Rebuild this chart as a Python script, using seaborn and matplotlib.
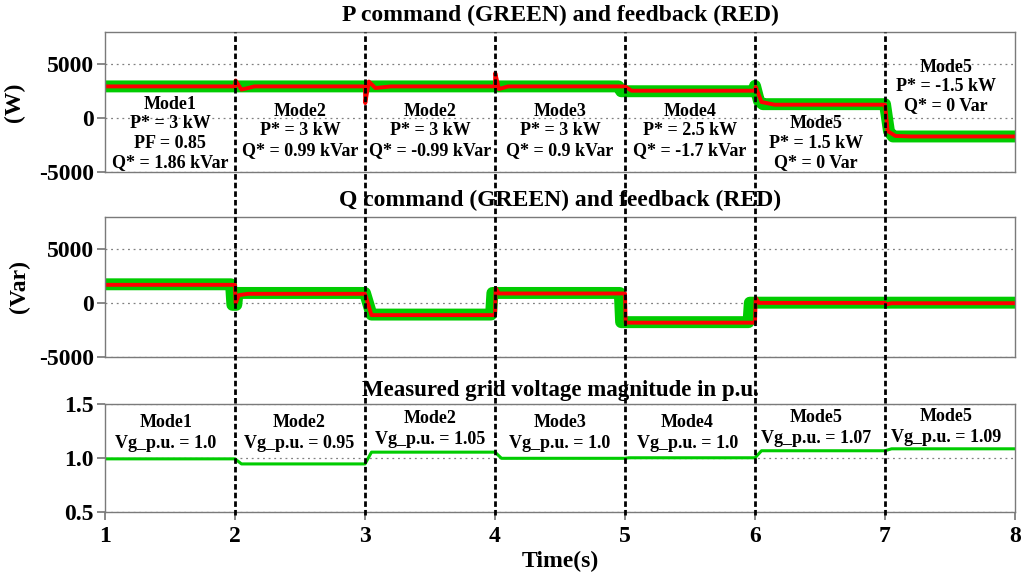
import matplotlib
matplotlib.use("Agg")
import matplotlib.pyplot as plt
import matplotlib.transforms as mtransforms
from matplotlib.lines import Line2D
import numpy as np
import pandas as pd
import seaborn as sns

# ---------------- data ----------------
mode_change_times = [2, 3, 4, 5, 6, 7]

p_cmd_t = [1.0, 4.95, 4.97, 5.99, 6.0, 6.03, 6.06, 7.0, 7.03, 7.06, 8.0]
p_cmd_v = [2950, 2950, 2500, 2500, 3000, 1600, 1300, 1300, -1200, -1700, -1700]

p_fb_t = [1.0, 2.0, 2.005, 2.05, 2.15, 3.0, 3.002, 3.03, 3.08, 3.2,
          4.0, 4.002, 4.03, 4.1, 5.0, 5.05, 6.0, 6.005, 6.05, 6.15,
          7.0, 7.02, 7.08, 7.2, 8.0]
p_fb_v = [2950, 2950, 3500, 2650, 2950, 2950, 1400, 3400, 2800, 2950,
          2950, 4200, 2700, 2950, 2950, 2550, 2550, 2900, 1500, 1250,
          1250, -1200, -1650, -1700, -1700]

q_cmd_t = [1.0, 1.97, 1.98, 2.01, 2.02, 3.0, 3.05, 3.97, 3.98, 4.96, 4.97, 5.95, 5.96, 8.0]
q_cmd_v = [1750, 1750, -150, -150, 950, 950, -1050, -1050, 950, 950, -1750, -1750, 50, 50]

q_fb_t = [1.0, 2.0, 2.005, 2.03, 2.1, 3.0, 3.05, 4.0, 4.005, 4.03,
          5.0, 5.005, 6.0, 6.005, 6.03, 7.0, 7.01, 7.05, 8.0]
q_fb_v = [1700, 1700, 0, 750, 870, 870, -1100, -1100, 1400, 900,
          900, -1800, -1800, 500, 30, 30, -100, 0, 0]

v_t = [1.0, 2.0, 2.05, 3.0, 3.05, 4.0, 4.05, 5.0, 5.03, 6.0, 6.05, 7.0, 7.05, 8.0]
v_v = [0.995, 0.995, 0.948, 0.948, 1.057, 1.057, 1.0, 1.0, 1.005, 1.005, 1.07, 1.07, 1.088, 1.088]

p_texts = ["Mode1\nP* = 3 kW\nPF = 0.85\nQ* = 1.86 kVar",
           "Mode2\nP* = 3 kW\nQ* = 0.99 kVar",
           "Mode2\nP* = 3 kW\nQ* = -0.99 kVar",
           "Mode3\nP* = 3 kW\nQ* = 0.9 kVar",
           "Mode4\nP* = 2.5 kW\nQ* = -1.7 kVar",
           "Mode5\nP* = 1.5 kW\nQ* = 0 Var",
           "Mode5\nP* = -1.5 kW\nQ* = 0 Var"]
v_texts = ["Mode1\nVg_p.u. = 1.0",
           "Mode2\nVg_p.u. = 0.95",
           "Mode2\nVg_p.u. = 1.05",
           "Mode3\nVg_p.u. = 1.0",
           "Mode4\nVg_p.u. = 1.0",
           "Mode5\nVg_p.u. = 1.07",
           "Mode5\nVg_p.u. = 1.09"]
x_ticks = [1, 2, 3, 4, 5, 6, 7, 8]

# ---------------- layout constants ----------------
p_text_x = [1.5, 2.5, 3.5, 4.5, 5.5, 6.47, 7.47]
p_text_y = [-1430, -1180, -1180, -1180, -1180, -2320, 2955]
v_text_x = [1.47, 2.49, 3.5, 4.5, 5.48, 6.47, 7.47]
v_text_y = [1.234, 1.234, 1.27, 1.234, 1.234, 1.278, 1.29]

GREEN = "#00CC00"
RED = "#FF0000"
SPINE = "#7a7a7a"

sns.set_theme(style="white")
plt.rcParams["font.family"] = ["Liberation Serif", "DejaVu Serif"]
plt.rcParams["font.weight"] = "bold"
plt.rcParams["axes.titleweight"] = "bold"
plt.rcParams["axes.labelweight"] = "bold"
plt.rcParams["axes.unicode_minus"] = False
plt.rcParams["text.color"] = "black"
plt.rcParams["axes.labelcolor"] = "black"
plt.rcParams["axes.titlecolor"] = "black"
plt.rcParams["xtick.labelcolor"] = "black"
plt.rcParams["ytick.labelcolor"] = "black"

fig = plt.figure(figsize=(10.28, 5.77), dpi=100)
L, R = 0.1021, 0.9874
ax1 = fig.add_axes([L, 0.7019, R - L, 0.9445 - 0.7019])
ax2 = fig.add_axes([L, 0.3808, R - L, 0.6244 - 0.3808])
ax3 = fig.add_axes([L, 0.1121, R - L, 0.2993 - 0.1121])

def draw(ax, t, v, color, lw):
    df = pd.DataFrame({"t": t, "v": v})
    sns.lineplot(data=df, x="t", y="v", ax=ax, color=color, linewidth=lw,
                 estimator=None, sort=False, legend=False)

draw(ax1, p_cmd_t, p_cmd_v, GREEN, 8.6)
draw(ax1, p_fb_t, p_fb_v, RED, 2.8)
draw(ax2, q_cmd_t, q_cmd_v, GREEN, 8.6)
draw(ax2, q_fb_t, q_fb_v, RED, 2.8)
draw(ax3, v_t, v_v, GREEN, 2.2)

for ax, (lo, hi), ticks in [(ax1, (-5000, 8000), [-5000, 0, 5000]),
                            (ax2, (-5000, 8000), [-5000, 0, 5000]),
                            (ax3, (0.5, 1.5), [0.5, 1.0, 1.5])]:
    ax.set_xlim(1, 8)
    ax.set_ylim(lo, hi)
    ax.set_yticks(ticks)
    ax.grid(axis="y", linestyle=(0, (1.5, 3)), color="#808080", linewidth=0.9)
    ax.grid(axis="x", visible=False)
    for s in ax.spines.values():
        s.set_color(SPINE)
        s.set_linewidth(1.0)
    ax.tick_params(axis="y", which="both", left=True, direction="out", length=6,
                   color=SPINE, labelcolor="black", labelsize=17, pad=2)
    ax.set_xlabel("")

ax3.set_yticklabels(["0.5", "1.0", "1.5"])
for ax in (ax1, ax2):
    ax.set_xticks(x_ticks)
    ax.tick_params(axis="x", bottom=False, labelbottom=False)
ax3.set_xticks(x_ticks)
ax3.tick_params(axis="x", bottom=True, direction="out", length=6, color=SPINE,
                labelcolor="black", labelsize=17, pad=4)

ax1.set_ylabel("(W)", fontsize=17)
ax2.set_ylabel("(Var)", fontsize=17)
ax1.yaxis.set_label_coords(-0.088, 0.5)
ax2.yaxis.set_label_coords(-0.082, 0.5)
ax3.set_ylabel("")
ax3.set_xlabel("Time(s)", fontsize=17, labelpad=3)

ax1.set_title("P command (GREEN) and feedback (RED)", fontsize=17, pad=8)
ax2.set_title("Q command (GREEN) and feedback (RED)", fontsize=17, pad=8)
ax3.set_title("Measured grid voltage magnitude in p.u.", fontsize=16.5, pad=6)

for x, y, s in zip(p_text_x, p_text_y, p_texts):
    ax1.text(x, y, s, ha="center", va="center", fontsize=13, linespacing=1.18,
             color="black", zorder=5)
for x, y, s in zip(v_text_x, v_text_y, v_texts):
    ax3.text(x, y, s, ha="center", va="center", fontsize=13, linespacing=1.3,
             color="black", zorder=5)

trans = mtransforms.blended_transform_factory(ax3.transData, fig.transFigure)
for t in mode_change_times:
    fig.add_artist(Line2D([t, t], [0.108, 0.9445], transform=trans, color="black",
                          linewidth=2.0, dashes=(2.0, 1.1), zorder=10))

fig.savefig("out.png", dpi=100)
